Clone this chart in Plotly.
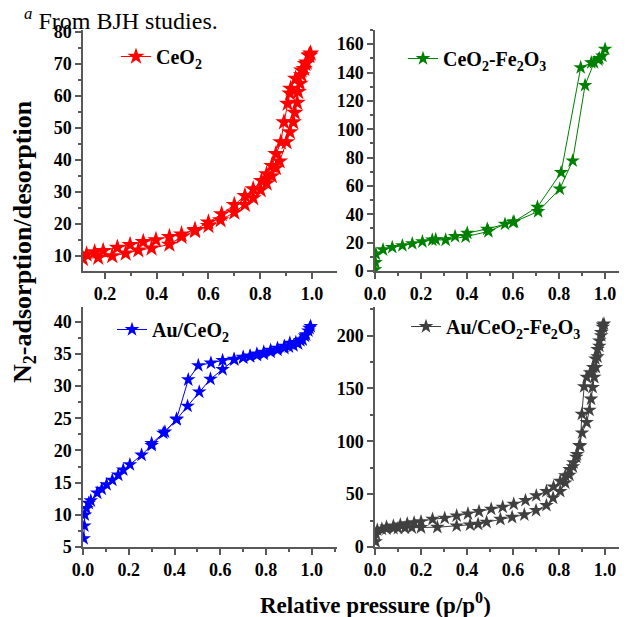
import plotly.graph_objects as go

# ---------------- data ----------------
# CeO2 (adsorption then desorption)
ceo2_p = [0.115, 0.174, 0.228, 0.28, 0.329, 0.38, 0.449, 0.496, 0.548, 0.6, 0.647, 0.7, 0.741, 0.773, 0.802,
          0.825, 0.845, 0.861, 0.875, 0.902, 0.915, 0.928, 0.934, 0.943, 0.947, 0.954, 0.96, 0.97, 0.98, 0.99, 0.995,
          0.99, 0.975, 0.96, 0.937, 0.918, 0.915, 0.906, 0.892, 0.88, 0.861, 0.845, 0.825, 0.805, 0.773, 0.741,
          0.7, 0.651, 0.6, 0.548, 0.496, 0.449, 0.397, 0.348, 0.297, 0.248, 0.193, 0.16, 0.129]
ceo2_v = [9.1, 9.5, 10.0, 10.8, 11.8, 12.4, 13.6, 16.0, 17.8, 19.4, 21.2, 23.6, 26.0, 28.1, 30.6,
          32.7, 35.0, 37.5, 39.6, 45.6, 48.7, 51.8, 54.8, 57.9, 61.3, 63.9, 66.5, 68.5, 70.5, 72.5, 73.3,
          72.8, 70.0, 68.0, 65.4, 62.3, 60.8, 57.6, 51.8, 45.6, 41.9, 38.2, 35.6, 33.5, 30.9, 28.8,
          26.0, 23.1, 20.5, 18.2, 16.8, 16.0, 15.0, 14.4, 13.5, 12.6, 11.6, 11.2, 10.5]

# CeO2-Fe2O3
cf_p = [0.0, 0.002, 0.004, 0.035, 0.075, 0.119, 0.162, 0.206, 0.249, 0.307, 0.394, 0.493, 0.565, 0.6, 0.709,
        0.803, 0.859, 0.913, 0.952, 0.971, 0.988, 1.0,
        0.975, 0.94, 0.894, 0.809, 0.706, 0.604, 0.488, 0.401, 0.348, 0.264]
cf_v = [1.0, 6.0, 12.0, 15.0, 16.7, 17.9, 19.3, 20.7, 21.9, 21.9, 24.2, 27.9, 33.1, 34.3, 42.0,
        57.9, 77.7, 131.0, 147.0, 149.0, 151.7, 156.5,
        150.0, 147.0, 143.5, 69.5, 45.1, 34.8, 29.6, 26.8, 24.4, 22.2]

# Au/CeO2
au_p = [0.003, 0.006, 0.008, 0.015, 0.025, 0.034, 0.062, 0.082, 0.103, 0.128, 0.154, 0.176, 0.205, 0.256, 0.3,
        0.351, 0.409, 0.457, 0.508, 0.557, 0.61, 0.661, 0.7, 0.73, 0.76, 0.79, 0.82, 0.85, 0.88, 0.9, 0.92,
        0.94, 0.96, 0.975, 0.99, 0.995,
        0.985, 0.97, 0.95, 0.93, 0.904, 0.88, 0.85, 0.82, 0.79, 0.76, 0.73, 0.7, 0.66, 0.61, 0.559, 0.504,
        0.46, 0.409, 0.358, 0.3]
au_v = [6.3, 8.3, 10.0, 11.0, 11.8, 12.2, 13.4, 14.0, 14.7, 15.4, 16.2, 17.0, 17.8, 19.3, 20.8,
        22.7, 24.8, 26.9, 29.1, 31.1, 32.6, 34.1, 34.4, 34.6, 34.8, 35.0, 35.3, 35.6, 35.9, 36.1, 36.3,
        36.6, 37.2, 38.0, 39.0, 39.3,
        38.6, 37.8, 37.1, 36.8, 36.7, 36.2, 35.9, 35.6, 35.3, 35.0, 34.7, 34.5, 34.2, 34.0, 33.6, 33.2,
        31.0, 24.9, 22.9, 21.1]

# Au/CeO2-Fe2O3
acf_p = [0.003, 0.005, 0.01, 0.03, 0.05, 0.08, 0.1, 0.13, 0.16, 0.2, 0.271, 0.355, 0.413, 0.448, 0.485,
         0.545, 0.596, 0.649, 0.7, 0.745, 0.774, 0.805, 0.827, 0.845, 0.86, 0.875, 0.888, 0.9, 0.92, 0.932,
         0.939, 0.946, 0.953, 0.96, 0.967, 0.975, 0.983, 0.99, 0.995,
         0.99, 0.983, 0.975, 0.967, 0.958, 0.948, 0.935, 0.92, 0.909, 0.899, 0.892, 0.878, 0.863, 0.846,
         0.827, 0.805, 0.776, 0.745, 0.701, 0.654, 0.603, 0.555, 0.505, 0.452, 0.404, 0.355, 0.303, 0.25,
         0.2, 0.17, 0.14, 0.11, 0.08, 0.05]
acf_v = [5.0, 12.0, 16.2, 17.0, 17.3, 17.6, 17.8, 18.0, 18.3, 18.5, 18.7, 20.0, 21.0, 21.6, 23.5,
         26.3, 28.2, 30.5, 34.6, 39.4, 46.4, 52.7, 60.6, 68.0, 76.0, 85.0, 96.0, 108.0, 117.8, 129.5,
         140.0, 151.0, 160.6, 170.0, 180.0, 190.0, 200.0, 208.0, 211.0,
         210.0, 203.0, 195.0, 187.0, 178.0, 170.0, 165.0, 160.6, 151.7, 125.7, 95.6, 87.6, 79.7, 73.3,
         67.6, 62.2, 56.9, 52.7, 48.6, 44.1, 40.6, 37.8, 35.9, 33.6, 31.4, 29.5, 27.3, 26.3,
         24.0, 23.0, 22.0, 21.0, 20.0, 19.0]

names = ["CeO<sub>2</sub>", "CeO<sub>2</sub>-Fe<sub>2</sub>O<sub>3</sub>",
         "Au/CeO<sub>2</sub>", "Au/CeO<sub>2</sub>-Fe<sub>2</sub>O<sub>3</sub>"]
colors = ["#ff0000", "#008000", "#0000ff", "#404040"]

# ---------------- figure ----------------
W, H = 627, 617
OFF = 8  # page body margin
FONT = "Liberation Serif"
AX = "#595959"

def fx(px):
    return (px - OFF) / W

def fy(py):
    return 1 - (py - OFF) / H

fig = go.Figure()

series = [(ceo2_p, ceo2_v), (cf_p, cf_v), (au_p, au_v), (acf_p, acf_v)]
msizes = [13, 11, 11, 11]
for i, (p, v) in enumerate(series):
    fig.add_trace(go.Scatter(
        x=p, y=v, mode="lines+markers", name=names[i], showlegend=True,
        line=dict(color=colors[i], width=1),
        marker=dict(symbol="star", size=msizes[i], color=colors[i], line=dict(width=0)),
        xaxis="x" if i == 0 else f"x{i+1}", yaxis="y" if i == 0 else f"y{i+1}",
        legend="legend" if i == 0 else f"legend{i+1}",
    ))

tickfont = dict(family=FONT, size=18, color="black", weight="bold")

def xax(domain, rng, anchor):
    return dict(domain=domain, range=rng, anchor=anchor, showline=True, linecolor=AX, linewidth=1.5,
                showgrid=False, zeroline=False, ticks="outside", ticklen=6, tickwidth=1.5, tickcolor=AX,
                tick0=0, dtick=0.2, tickformat=".1f", tickfont=tickfont, automargin=False,
                minor=dict(ticks="outside", ticklen=3, tickcolor=AX, dtick=0.1, tick0=0))

def yax(domain, rng, anchor, dt):
    return dict(domain=domain, range=rng, anchor=anchor, showline=True, linecolor=AX, linewidth=1.5,
                showgrid=False, zeroline=False, ticks="outside", ticklen=6, tickwidth=1.5, tickcolor=AX,
                tick0=0, dtick=dt, tickfont=tickfont, automargin=False,
                minor=dict(ticks="outside", ticklen=3, tickcolor=AX, dtick=dt / 2, tick0=0))

top = [fy(271), fy(30)]
bot = [fy(547), fy(307)]
left = [fx(83), fx(337)]
right = [fx(375), 1.0]

def legend_at(px, py):
    return dict(x=fx(px), y=fy(py), xanchor="left", yanchor="top", bgcolor="rgba(0,0,0,0)",
                font=dict(family=FONT, size=20, color="black", weight="bold"), borderwidth=0)

fig.update_layout(
    width=W, height=H, autosize=False, showlegend=True,
    margin=dict(l=0, r=0, t=0, b=0, autoexpand=False),
    paper_bgcolor="white", plot_bgcolor="white",
    xaxis=xax(left, [0.115, 1.097], "y"),
    yaxis=yax(top, [5.3, 80.6], "x", 10),
    xaxis2=xax(right, [0.0, 1.13], "y2"),
    yaxis2=yax(top, [0, 170], "x2", 20),
    xaxis3=xax(left, [0.0, 1.11], "y3"),
    yaxis3=yax(bot, [5, 42.3], "x3", 5),
    xaxis4=xax(right, [0.0, 1.13], "y4"),
    yaxis4=yax(bot, [0, 227], "x4", 50),
    legend=legend_at(116, 37),
    legend2=legend_at(403, 39),
    legend3=legend_at(112, 310),
    legend4=legend_at(406, 307),
    annotations=[
        dict(text="<b>N<sub>2</sub>-adsorption/desorption</b>", x=fx(24), y=fy(242), xref="paper", yref="paper",
             xanchor="center", yanchor="middle",
             textangle=-90, showarrow=False, font=dict(family=FONT, size=26, color="black")),
        dict(text="<b>Relative pressure (p/p<sup>0</sup>)</b>", x=fx(375), y=fy(603), xref="paper", yref="paper",
             xanchor="center", yanchor="middle",
             showarrow=False, font=dict(family=FONT, size=23, color="black")),
        dict(text="<sup><i>a</i></sup> From BJH studies.", x=fx(22), y=fy(19), xref="paper", yref="paper",
             xanchor="left", yanchor="middle", showarrow=False, font=dict(family=FONT, size=24, color="black")),
    ],
)

fig.write_html("out.html")
